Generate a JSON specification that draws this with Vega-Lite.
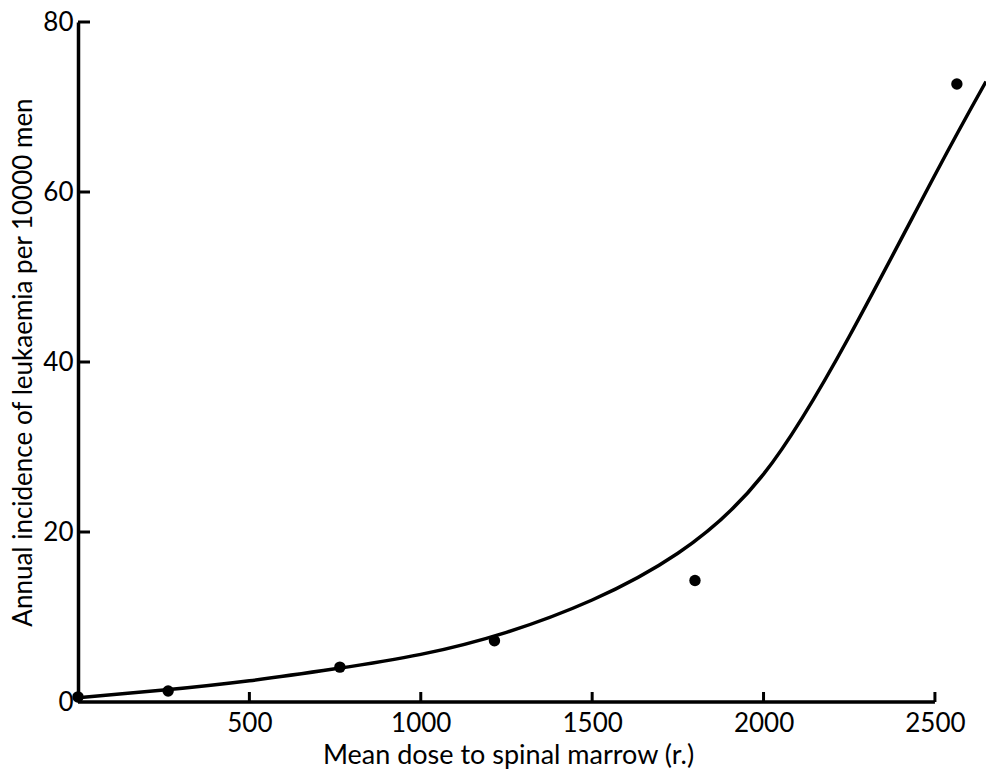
{
  "$schema": "https://vega.github.io/schema/vega-lite/v6.json",
  "autosize": "none",
  "width": 908,
  "height": 680,
  "padding": {"left": 78, "top": 22, "right": 0, "bottom": 72},
  "background": "white",
  "config": {"view": {"stroke": null}, "font": "Lato"},
  "datasets": {
    "points": [
      {"dose": 0, "incidence": 0.6},
      {"dose": 263, "incidence": 1.3},
      {"dose": 764, "incidence": 4.1},
      {"dose": 1215, "incidence": 7.2},
      {"dose": 1800, "incidence": 14.3},
      {"dose": 2564, "incidence": 72.7}
    ],
    "curve": [
      {"dose": 0, "incidence": 0.5},
      {"dose": 250, "incidence": 1.4},
      {"dose": 500, "incidence": 2.5},
      {"dose": 750, "incidence": 3.9},
      {"dose": 1000, "incidence": 5.6},
      {"dose": 1250, "incidence": 8.2},
      {"dose": 1500, "incidence": 12.0},
      {"dose": 1750, "incidence": 17.5},
      {"dose": 2000, "incidence": 26.8},
      {"dose": 2250, "incidence": 43.0},
      {"dose": 2500, "incidence": 62.0},
      {"dose": 2649, "incidence": 73.0}
    ],
    "xaxis": [{"start": 0, "end": 2500, "level": 0}],
    "xticks": [
      {"dose": 500, "incidence": 0},
      {"dose": 1000, "incidence": 0},
      {"dose": 1500, "incidence": 0},
      {"dose": 2000, "incidence": 0},
      {"dose": 2500, "incidence": 0}
    ],
    "yticks": [
      {"dose": 0, "incidence": 20},
      {"dose": 0, "incidence": 40},
      {"dose": 0, "incidence": 60},
      {"dose": 0, "incidence": 80}
    ]
  },
  "layer": [
    {
      "data": {"name": "xaxis"},
      "mark": {"type": "rule", "color": "black", "strokeWidth": 3.5},
      "encoding": {
        "x": {"field": "start", "type": "quantitative", "scale": {"domain": [0, 2649], "nice": false, "zero": false},
          "axis": {
            "orient": "bottom",
            "domain": false, "ticks": false, "tickSize": 0, "grid": false,
            "values": [500, 1000, 1500, 2000, 2500], "format": "d",
            "labelPadding": 8, "labelFontSize": 26, "labelColor": "black", "labelFont": "Lato",
            "title": "Mean dose to spinal marrow (r.)",
            "titleFontSize": 27, "titleFontWeight": "normal", "titleColor": "black", "titleFont": "Lato",
            "titlePadding": 6, "titleX": 430
          }},
        "x2": {"field": "end"},
        "y": {"field": "level", "type": "quantitative", "scale": {"domain": [0, 80], "nice": false},
          "axis": {
            "orient": "left",
            "domain": true, "domainColor": "black", "domainWidth": 3.5,
            "ticks": false, "tickSize": 0, "grid": false,
            "values": [0, 20, 40, 60, 80],
            "labelPadding": 5, "labelFontSize": 26, "labelColor": "black", "labelFont": "Lato",
            "title": "Annual incidence of leukaemia per 10000 men",
            "titleFontSize": 26, "titleFontWeight": "normal", "titleColor": "black", "titleFont": "Lato",
            "titlePadding": 6
          }}
      }
    },
    {
      "data": {"name": "xticks"},
      "mark": {"type": "tick", "orient": "vertical", "color": "black", "size": 10, "thickness": 3, "yOffset": -5, "opacity": 1},
      "encoding": {
        "x": {"field": "dose", "type": "quantitative"},
        "y": {"field": "incidence", "type": "quantitative"}
      }
    },
    {
      "data": {"name": "yticks"},
      "mark": {"type": "tick", "orient": "horizontal", "color": "black", "size": 12, "thickness": 3, "xOffset": 6, "opacity": 1},
      "encoding": {
        "x": {"field": "dose", "type": "quantitative"},
        "y": {"field": "incidence", "type": "quantitative"}
      }
    },
    {
      "data": {"name": "curve"},
      "mark": {"type": "line", "color": "black", "strokeWidth": 3.5, "interpolate": "natural", "clip": true},
      "encoding": {
        "x": {"field": "dose", "type": "quantitative"},
        "y": {"field": "incidence", "type": "quantitative"}
      }
    },
    {
      "data": {"name": "points"},
      "mark": {"type": "point", "filled": true, "color": "black", "opacity": 1, "size": 130, "shape": "circle"},
      "encoding": {
        "x": {"field": "dose", "type": "quantitative"},
        "y": {"field": "incidence", "type": "quantitative"}
      }
    }
  ]
}
